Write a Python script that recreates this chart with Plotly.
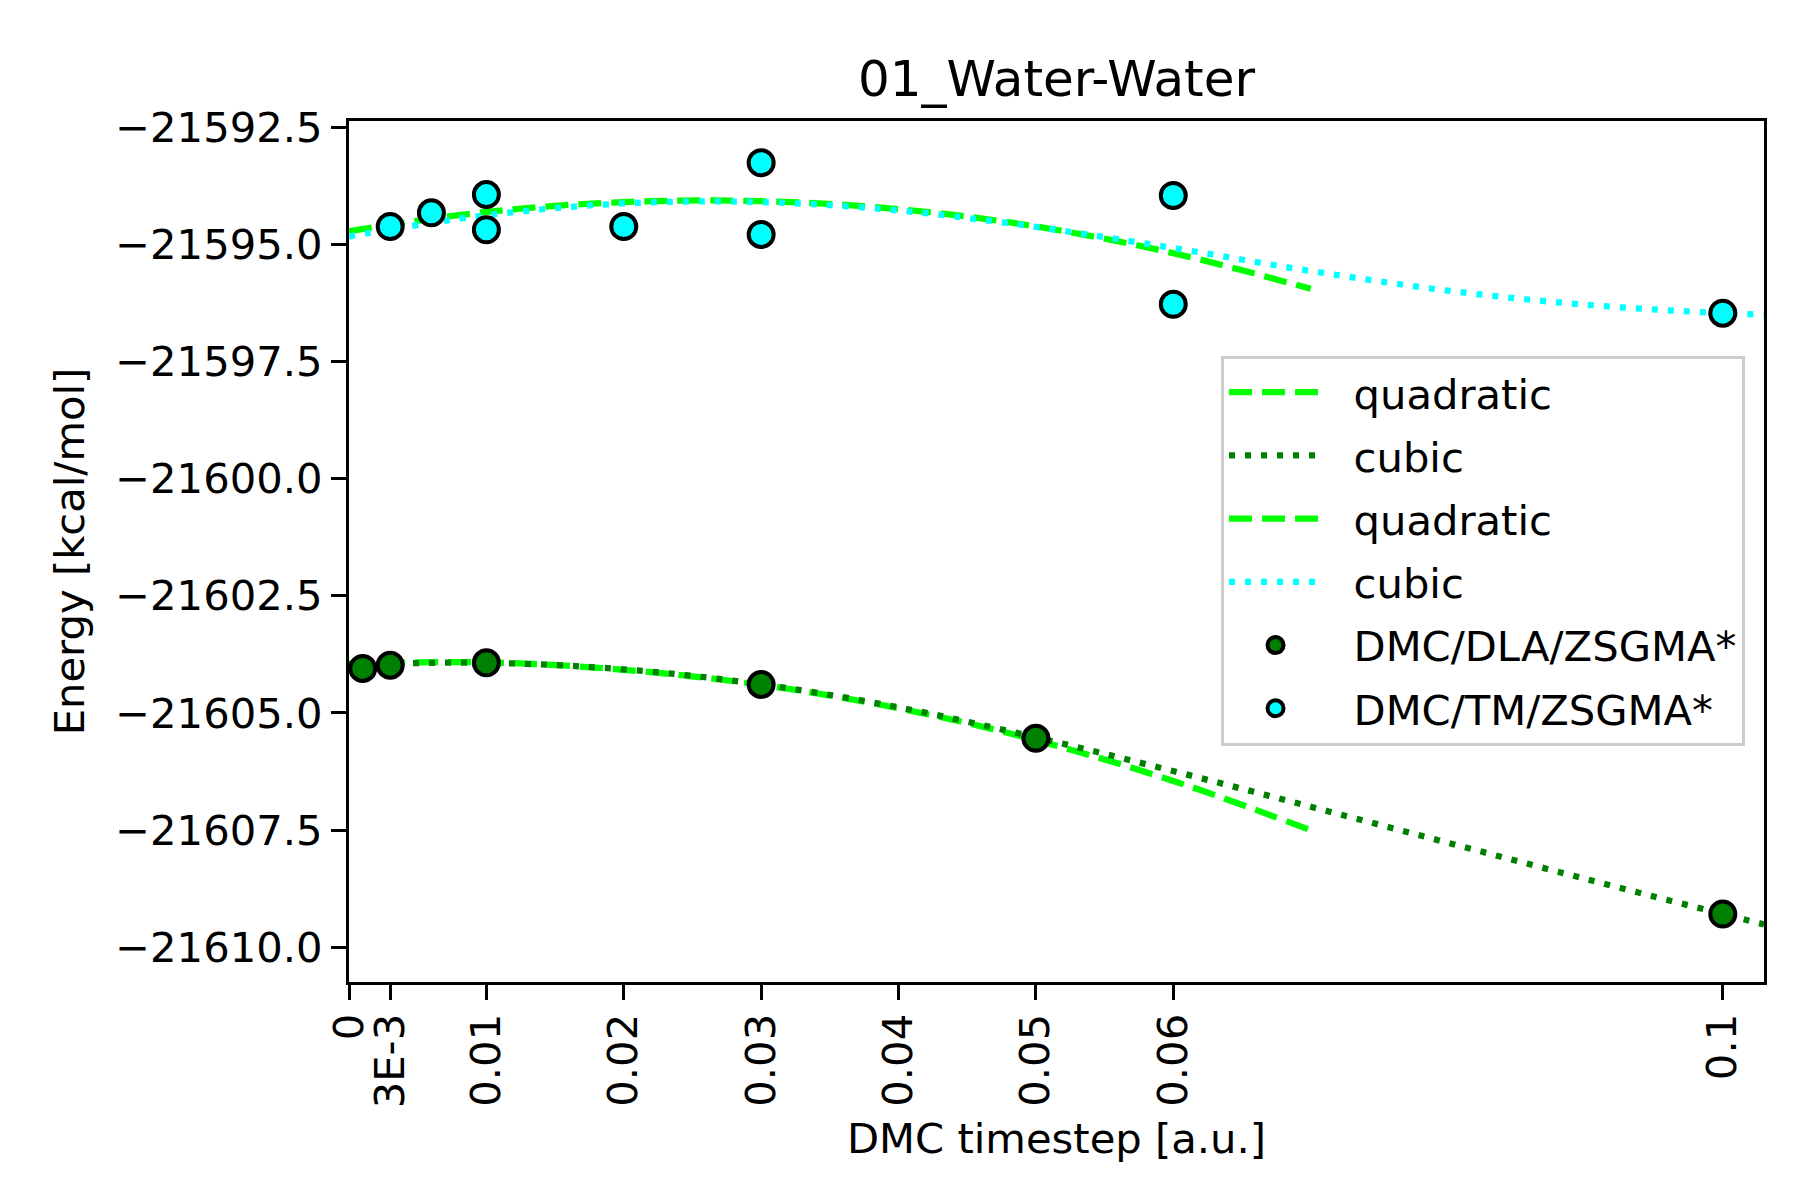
import plotly.graph_objects as go


#NOTE:
#Energies are in kcal/mol, timesteps in atomic units.


#DMC POINTS:
dla_x = [0.001, 0.003, 0.01, 0.03, 0.05, 0.1]
dla_e = [-21604.05, -21603.98, -21603.93, -21604.39, -21605.54, -21609.29]

tm_x = [0.003, 0.006, 0.01, 0.01, 0.02, 0.03, 0.03, 0.06, 0.06, 0.1]
tm_e = [-21594.62, -21594.33, -21593.94, -21594.69, -21594.62,
        -21593.26, -21594.79, -21593.96, -21596.28, -21596.47]

#FITTED CURVES (sampled from the figure):
quad_x = [0, 0.01, 0.02, 0.03, 0.04, 0.05, 0.06, 0.07]
cubic_x = [0, 0.01, 0.02, 0.03, 0.04, 0.05, 0.06, 0.07, 0.08, 0.09, 0.1, 0.103]

dla_quad = [-21603.95, -21603.92, -21604.08, -21604.40, -21604.90, -21605.58, -21606.45, -21607.50]
dla_cubic = [-21603.97, -21603.93, -21604.07, -21604.39, -21604.88, -21605.52,
             -21606.24, -21607.00, -21607.77, -21608.54, -21609.29, -21609.51]

tm_quad = [-21594.72, -21594.31, -21594.10, -21594.08, -21594.25, -21594.62, -21595.19, -21595.95]
tm_cubic = [-21594.83, -21594.38, -21594.13, -21594.10, -21594.28, -21594.63,
            -21595.08, -21595.57, -21595.99, -21596.29, -21596.47, -21596.50]

#TICKS:
x_ticks = [0, 0.003, 0.01, 0.02, 0.03, 0.04, 0.05, 0.06, 0.1]
x_labels = ['0', '3E-3', '0.01', '0.02', '0.03', '0.04', '0.05', '0.06', '0.1']
y_ticks = [-21610.0, -21607.5, -21605.0, -21602.5, -21600.0, -21597.5, -21595.0, -21592.5]
y_labels = ['\u2212%.1f' % abs(v) for v in y_ticks]


#PLOTTING THE TIMESTEP EXTRAPOLATION CHART:
def timestepChart(outputfile):
    font = 'DejaVu Sans'
    lw = 6.25
    dashed = '23px,10px'
    dotted = '6px,10px'
    pad = '\u00a0\u00a0'   #gap between legend handle and label

    fig = go.Figure()

    fig.add_trace(go.Scatter(x=quad_x, y=dla_quad, mode='lines', name=pad + 'quadratic', legendgroup='a',
                             line=dict(color='#00ff00', width=lw, dash=dashed, shape='spline')))
    fig.add_trace(go.Scatter(x=cubic_x, y=dla_cubic, mode='lines', name=pad + 'cubic', legendgroup='b',
                             line=dict(color='#008000', width=lw, dash=dotted, shape='spline')))
    fig.add_trace(go.Scatter(x=quad_x, y=tm_quad, mode='lines', name=pad + 'quadratic', legendgroup='c',
                             line=dict(color='#00ff00', width=lw, dash=dashed, shape='spline')))
    fig.add_trace(go.Scatter(x=cubic_x, y=tm_cubic, mode='lines', name=pad + 'cubic', legendgroup='d',
                             line=dict(color='#00ffff', width=lw, dash=dotted, shape='spline')))

    fig.add_trace(go.Scatter(x=dla_x, y=dla_e, mode='markers', name=pad + 'DMC/DLA/ZSGMA*', legendgroup='e',
                             marker=dict(color='#008000', size=25, line=dict(color='black', width=4))))
    fig.add_trace(go.Scatter(x=tm_x, y=tm_e, mode='markers', name=pad + 'DMC/TM/ZSGMA*', legendgroup='f',
                             marker=dict(color='#00ffff', size=25, line=dict(color='black', width=4))))

    axis_style = dict(showline=True, linecolor='black', linewidth=3.3, mirror=True,
                      ticks='outside', ticklen=15, tickwidth=3.3, tickcolor='black',
                      showgrid=False, zeroline=False,
                      tickfont=dict(family=font, size=41.7, color='black'))

    fig.update_xaxes(range=[0, 0.103], tickvals=x_ticks, ticktext=x_labels, tickangle=-90,
                     ticklabelstandoff=-3,
                     title=dict(text='DMC timestep [a.u.]', font=dict(family=font, size=41.7, color='black'),
                                standoff=17),
                     **axis_style)
    fig.update_yaxes(range=[-21610.74, -21592.37], tickvals=y_ticks, ticktext=y_labels,
                     title=dict(text='Energy [kcal/mol]', font=dict(family=font, size=41.7, color='black'),
                                standoff=18),
                     **axis_style)

    fig.update_layout(
        width=1800, height=1200,
        margin=dict(l=341, r=44, t=113, b=226),
        paper_bgcolor='white', plot_bgcolor='white',
        font=dict(family=font, size=41.7, color='black'),
        title=dict(text='01_Water-Water', x=0.5, xref='paper', xanchor='center',
                   y=1 - 70 / 1200, yanchor='middle', font=dict(family=font, size=50, color='black')),
        legend=dict(x=0.9866, xanchor='right', y=0.501, yanchor='middle',
                    bgcolor='rgba(255,255,255,0.8)', bordercolor='#cccccc', borderwidth=3,
                    font=dict(family=font, size=41.7, color='black'),
                    traceorder='grouped', tracegroupgap=6, itemwidth=93),
        showlegend=True,
    )

    fig.write_html(outputfile)


timestepChart('out.html')
